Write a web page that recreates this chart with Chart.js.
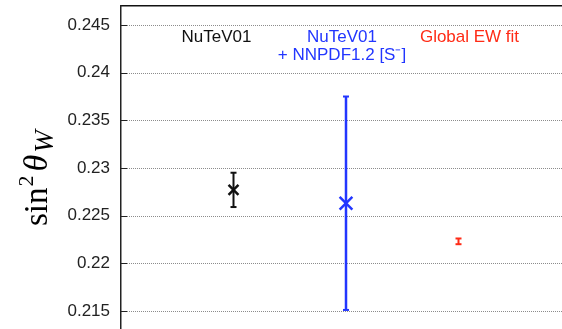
<!DOCTYPE html>
<html>
<head>
<meta charset="utf-8">
<script src="https://cdn.jsdelivr.net/npm/chart.js@4/dist/chart.umd.min.js"></script>
<style>
  html, body { margin: 0; padding: 0; background: #fff; overflow: hidden; }
  #wrap { width: 562px; height: 329px; position: relative; }
</style>
</head>
<body>
<div id="wrap"><canvas id="c" width="562" height="329"></canvas></div>
<script>
// Determinations of the weak mixing angle
const categories = ["NuTeV01", "NuTeV01\n+ NNPDF1.2 [S\u207B]", "Global EW fit"];
const categoryX = [1, 2, 3];
const centralValues = [0.2277, 0.2263, 0.2223];
const errorUp = [0.0018, 0.0112, 0.0003];
const errorDown = [0.0018, 0.0112, 0.0003];
const yTicks = [0.215, 0.22, 0.225, 0.23, 0.235, 0.24, 0.245];
const seriesColors = ['#111111', '#2236ff', '#ff2b16'];

const markerRadius = [7, 9, 0];
const capRadius = [3, 3, 3];
const barWidth = [2, 2.5, 2];

const datasets = [];
categories.forEach((name, i) => {
  // error bar: vertical segment with horizontal caps at both ends
  datasets.push({
    type: 'line',
    label: name + ' error',
    data: [
      { x: categoryX[i], y: centralValues[i] - errorDown[i] },
      { x: categoryX[i], y: centralValues[i] + errorUp[i] }
    ],
    showLine: true,
    borderColor: seriesColors[i],
    borderWidth: barWidth[i],
    pointStyle: 'line',
    pointRadius: capRadius[i],
    pointBorderWidth: 2,
    pointBorderColor: seriesColors[i],
    pointBackgroundColor: seriesColors[i],
    fill: false
  });
  // central value marker
  datasets.push({
    type: 'scatter',
    label: name,
    data: [{ x: categoryX[i], y: centralValues[i] }],
    pointStyle: 'crossRot',
    pointRadius: markerRadius[i],
    pointBorderWidth: 2.5,
    borderColor: seriesColors[i],
    backgroundColor: seriesColors[i]
  });
});

const labelOffsets = [-17, -4, 11];

// dotted horizontal grid at each tick value, with short inward ticks
const dottedGrid = {
  id: 'dottedGrid',
  beforeDatasetsDraw(chart) {
    const ctx = chart.ctx;
    const ys = chart.scales.y;
    const area = chart.chartArea;
    ctx.save();
    yTicks.forEach(v => {
      const py = Math.round(ys.getPixelForValue(v)) + 0.5;
      ctx.strokeStyle = '#8c8c8c';
      ctx.lineWidth = 1;
      ctx.setLineDash([1, 1]);
      ctx.beginPath();
      ctx.moveTo(area.left, py);
      ctx.lineTo(area.right, py);
      ctx.stroke();
      ctx.setLineDash([]);
      ctx.strokeStyle = '#222';
      ctx.beginPath();
      ctx.moveTo(area.left, py);
      ctx.lineTo(area.left + 6, py);
      ctx.stroke();
    });
    ctx.restore();
  }
};

const annotations = {
  id: 'annotations',
  afterDraw(chart) {
    const ctx = chart.ctx;
    const xs = chart.scales.x;
    const area = chart.chartArea;

    // category captions
    ctx.save();
    ctx.font = '17px "Liberation Sans", Arial, sans-serif';
    ctx.textAlign = 'center';
    ctx.textBaseline = 'middle';
    categories.forEach((name, i) => {
      const cx = xs.getPixelForValue(categoryX[i]) + labelOffsets[i];
      ctx.fillStyle = seriesColors[i];
      name.split('\n').forEach((line, k) => {
        ctx.fillText(line, cx, area.top + 31 + k * 18.5);
      });
    });
    ctx.restore();

    // axis title: sin^2 theta_W
    ctx.save();
    ctx.translate(47, 226);
    ctx.rotate(-Math.PI / 2);
    ctx.fillStyle = '#000';
    ctx.textBaseline = 'alphabetic';
    ctx.textAlign = 'left';
    let x = 0;
    ctx.font = '33px "Liberation Serif", "DejaVu Serif", serif';
    ctx.fillText('sin', x, 0);
    x += ctx.measureText('sin').width + 1;
    ctx.font = '22px "Liberation Serif", "DejaVu Serif", serif';
    ctx.fillText('2', x, -14);
    x += ctx.measureText('2').width + 4;
    ctx.font = 'italic 34px "Liberation Serif", "DejaVu Serif", serif';
    ctx.fillText('\u03B8', x, 0);
    x += ctx.measureText('\u03B8').width + 2;
    ctx.font = 'italic 27px "Liberation Serif", "DejaVu Serif", serif';
    ctx.fillText('W', x, 6);
    ctx.restore();
  }
};

new Chart(document.getElementById('c'), {
  data: { datasets },
  options: {
    responsive: false,
    devicePixelRatio: 1,
    animation: false,
    layout: { autoPadding: false, padding: { left: 0, right: 0, top: 6, bottom: 0 } },
    plugins: { legend: { display: false }, tooltip: { enabled: false } },
    scales: {
      x: {
        type: 'linear',
        position: 'top',
        min: 0,
        max: 3.92,
        grid: { display: false, drawTicks: false },
        ticks: { display: false },
        border: { display: true, color: '#111', width: 1.5 },
        afterFit(scale) {
          scale.height = 0;
          scale.paddingLeft = 0;
          scale.paddingRight = 0;
        }
      },
      y: {
        type: 'linear',
        min: 0.2131,
        max: 0.247,
        afterBuildTicks(scale) {
          scale.ticks = yTicks.map(v => ({ value: v }));
        },
        afterFit(scale) {
          scale.width = 121;
          scale.paddingTop = 0;
          scale.paddingBottom = 0;
        },
        ticks: {
          padding: 11,
          color: '#222',
          font: { family: '"Liberation Sans", Arial, sans-serif', size: 17 },
          callback: v => String(+v.toFixed(3))
        },
        grid: { display: false, drawTicks: false },
        border: { display: true, color: '#222', width: 1.5 }
      }
    }
  },
  plugins: [dottedGrid, annotations]
});
</script>
</body>
</html>
